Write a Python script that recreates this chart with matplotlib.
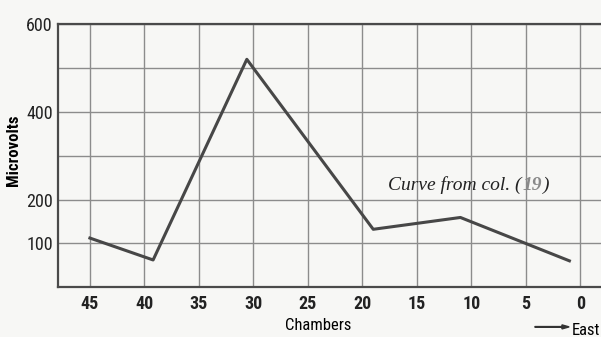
import matplotlib
matplotlib.use("Agg")
import matplotlib.pyplot as plt
from matplotlib import font_manager
from matplotlib.transforms import offset_copy

# chamber number vs. microvolts
chambers = [45, 39.2, 30.6, 19, 11, 1]
microvolts = [112, 62, 520, 132, 159, 60]

xgrid = [45, 40, 35, 30, 25, 20, 15, 10, 5, 0]
ygrid = [0, 100, 200, 300, 400, 500, 600]
ylabels = ['', '100', '200', '', '400', '', '600']

# pick a narrow sans if one is there
narrow = 'Liberation Sans'
for name in ['Liberation Sans Narrow', 'DejaVu Sans Condensed', 'Roboto Condensed']:
    try:
        font_manager.findfont(name, fallback_to_default=False)
        narrow = name
        break
    except Exception:
        pass

fig = plt.figure(figsize=(6.01, 3.37), dpi=100)
fig.patch.set_facecolor('#f7f7f5')
ax = fig.add_axes([0.097, 0.148, 0.903, 0.78])
ax.set_facecolor('#f7f7f5')

ax.plot(chambers, microvolts, color='#474747', lw=2.2, zorder=3)

ax.set_xlim(47.9, -1.9)
ax.set_ylim(0, 600)
ax.set_xticks(xgrid)
ax.set_xticklabels([str(v) for v in xgrid], family=narrow, fontsize=13, weight='bold')
ax.set_yticks(ygrid)
ax.set_yticklabels(ylabels, family=narrow, fontsize=13)
ax.tick_params(axis='x', length=0, pad=6, colors='#222222')
ax.tick_params(axis='y', length=0, pad=4, colors='#222222')
ax.grid(True, color='#8c8c8c', lw=1.0)

for s in ['left', 'bottom', 'top']:
    ax.spines[s].set_color('#4a4a4a')
    ax.spines[s].set_linewidth(1.6)
ax.spines['right'].set_visible(False)

fig.text(0.022, 0.555, 'Microvolts', family=narrow, fontsize=12, weight='bold',
         rotation=90, ha='center', va='center')
fig.text(0.53, 0.035, 'Chambers', family=narrow, fontsize=12, ha='center', va='center')
fig.text(0.975, 0.02, 'East', family=narrow, fontsize=12, ha='center', va='center')
fig.patches.append(matplotlib.patches.FancyArrow(0.89, 0.03, 0.045, 0, width=0.002,
                   head_width=0.012, head_length=0.012, color='#333333',
                   transform=fig.transFigure, figure=fig))

# annotation, pieces placed one after the other
t1 = ax.text(0.607, 0.37, 'Curve from col. (', transform=ax.transAxes,
             family='Liberation Serif', style='italic', fontsize=14, color='#222222')
fig.canvas.draw()
w1 = t1.get_window_extent().width
t2 = ax.text(0.607, 0.37, '19', transform=offset_copy(ax.transAxes, fig=fig, x=w1 + 1, units='dots'),
             family='Liberation Serif', style='italic', weight='bold', fontsize=14, color='#8a8a8a')
fig.canvas.draw()
w2 = t2.get_window_extent().width
ax.text(0.607, 0.37, ')', transform=offset_copy(ax.transAxes, fig=fig, x=w1 + w2 + 2, units='dots'),
        family='Liberation Serif', style='italic', fontsize=14, color='#222222')

fig.savefig('out.png', dpi=100, facecolor=fig.get_facecolor())
